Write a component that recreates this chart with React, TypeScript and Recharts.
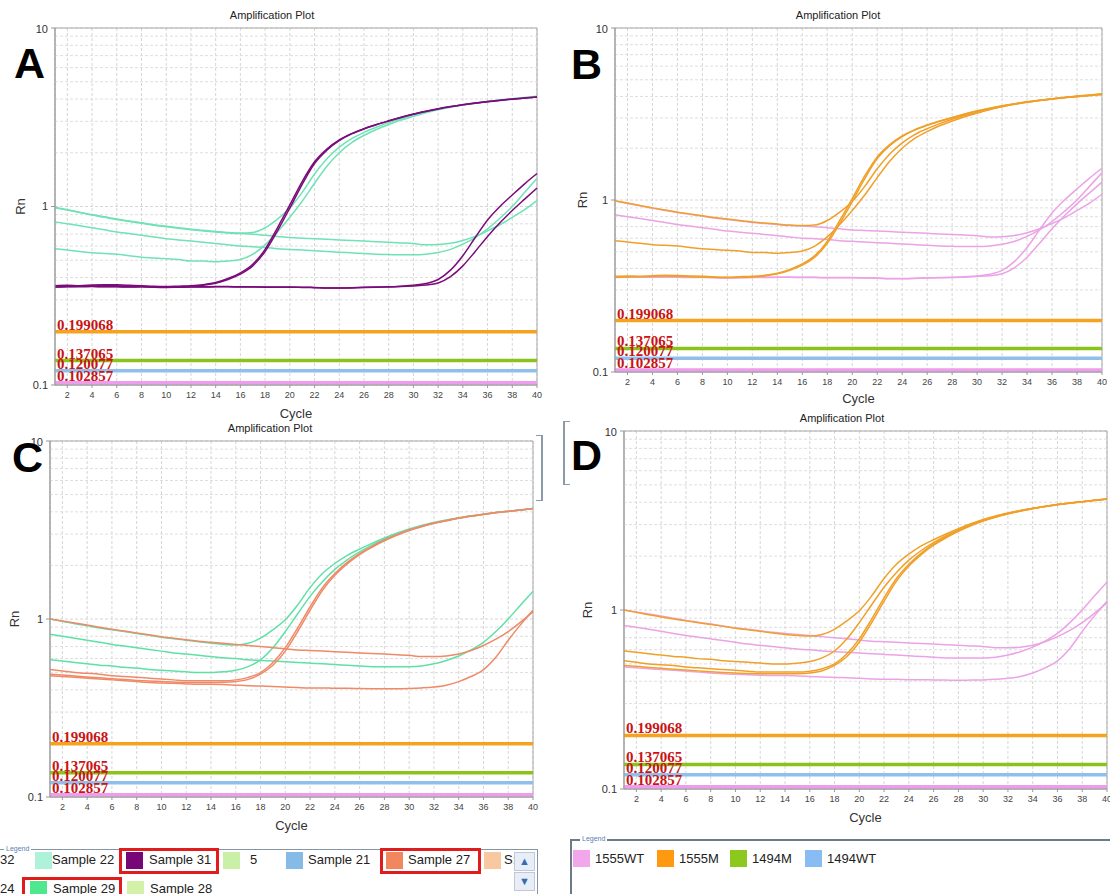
import React from 'react';
import { LineChart, Line, XAxis, YAxis, CartesianGrid, ReferenceLine, ReferenceArea } from 'recharts';

const cycles = [1, 2, 3, 4, 5, 6, 7, 8, 9, 10, 11, 12, 13, 14, 15, 16, 17, 18, 19, 20, 21, 22, 23, 24, 25, 26, 27, 28, 29, 30, 31, 32, 33, 34, 35, 36, 37, 38, 39, 40];
const xTicks = [2, 4, 6, 8, 10, 12, 14, 16, 18, 20, 22, 24, 26, 28, 30, 32, 34, 36, 38, 40];
const yTicks = [0.1, 1, 10];
const minorTicks = [0.2, 0.3, 0.4, 0.5, 0.6, 0.7, 0.8, 0.9, 2, 3, 4, 5, 6, 7, 8, 9];

const thresholds = [0.199068, 0.137065, 0.120077, 0.102857];
const thresholdLabels = ['0.199068', '0.137065', '0.120077', '0.102857'];

// run 1 (panels A and B show the same wells, coloured by sample / by target)
const ab1 = [0.99, 0.96, 0.93, 0.9, 0.875, 0.85, 0.83, 0.81, 0.79, 0.775, 0.76, 0.745, 0.735, 0.725, 0.715, 0.71, 0.715, 0.76, 0.85, 0.98, 1.2, 1.52, 1.85, 2.15, 2.4, 2.6, 2.78, 2.95, 3.1, 3.25, 3.38, 3.5, 3.61, 3.71, 3.8, 3.88, 3.95, 4.01, 4.07, 4.13];
const ab2 = [0.985, 0.955, 0.925, 0.895, 0.87, 0.845, 0.825, 0.805, 0.785, 0.77, 0.755, 0.74, 0.73, 0.72, 0.71, 0.705, 0.7, 0.69, 0.68, 0.67, 0.665, 0.66, 0.655, 0.65, 0.645, 0.64, 0.635, 0.63, 0.625, 0.62, 0.61, 0.612, 0.622, 0.645, 0.68, 0.73, 0.79, 0.87, 0.96, 1.08];
const ab3 = [0.82, 0.8, 0.78, 0.76, 0.74, 0.72, 0.705, 0.69, 0.675, 0.66, 0.65, 0.64, 0.63, 0.62, 0.61, 0.6, 0.595, 0.59, 0.58, 0.575, 0.57, 0.565, 0.56, 0.555, 0.55, 0.545, 0.54, 0.538, 0.536, 0.536, 0.54, 0.553, 0.575, 0.615, 0.67, 0.75, 0.86, 1.0, 1.2, 1.44];
const ab4 = [0.58, 0.57, 0.56, 0.55, 0.545, 0.54, 0.53, 0.52, 0.515, 0.51, 0.505, 0.495, 0.495, 0.49, 0.495, 0.505, 0.54, 0.61, 0.72, 0.87, 1.07, 1.35, 1.68, 2.0, 2.28, 2.5, 2.7, 2.88, 3.05, 3.2, 3.35, 3.48, 3.6, 3.7, 3.79, 3.87, 3.95, 4.02, 4.08, 4.15];
const ab5 = [0.36, 0.362, 0.36, 0.363, 0.365, 0.364, 0.362, 0.36, 0.357, 0.356, 0.358, 0.36, 0.365, 0.375, 0.395, 0.425, 0.475, 0.575, 0.76, 1.02, 1.38, 1.78, 2.1, 2.36, 2.56, 2.73, 2.88, 3.02, 3.16, 3.3, 3.42, 3.53, 3.63, 3.72, 3.8, 3.87, 3.94, 4.0, 4.05, 4.1];
const ab6 = [0.355, 0.357, 0.358, 0.36, 0.362, 0.36, 0.358, 0.356, 0.355, 0.354, 0.355, 0.357, 0.362, 0.372, 0.39, 0.418, 0.465, 0.56, 0.73, 0.98, 1.33, 1.74, 2.07, 2.34, 2.55, 2.72, 2.87, 3.01, 3.15, 3.29, 3.41, 3.52, 3.62, 3.71, 3.79, 3.86, 3.93, 3.99, 4.05, 4.1];
const ab7 = [0.355, 0.356, 0.357, 0.357, 0.356, 0.356, 0.355, 0.356, 0.354, 0.353, 0.354, 0.355, 0.355, 0.356, 0.356, 0.355, 0.355, 0.354, 0.354, 0.354, 0.353, 0.352, 0.35, 0.35, 0.351, 0.353, 0.354, 0.355, 0.358, 0.362, 0.37, 0.39, 0.44, 0.53, 0.67, 0.84, 1.0, 1.16, 1.34, 1.53];
const ab8 = [0.354, 0.355, 0.355, 0.356, 0.355, 0.355, 0.354, 0.355, 0.353, 0.352, 0.353, 0.354, 0.354, 0.355, 0.355, 0.354, 0.354, 0.353, 0.353, 0.353, 0.352, 0.351, 0.349, 0.349, 0.35, 0.352, 0.353, 0.354, 0.356, 0.359, 0.363, 0.373, 0.405, 0.465, 0.56, 0.68, 0.81, 0.95, 1.1, 1.27];

// run 2 (panels C and D)
const cd1 = [1.0, 0.97, 0.94, 0.915, 0.89, 0.87, 0.85, 0.83, 0.81, 0.79, 0.775, 0.76, 0.745, 0.73, 0.72, 0.715, 0.73, 0.78, 0.87, 0.99, 1.2, 1.5, 1.8, 2.05, 2.28, 2.47, 2.66, 2.85, 3.03, 3.2, 3.35, 3.48, 3.6, 3.7, 3.8, 3.88, 3.96, 4.03, 4.1, 4.17];
const cd2 = [0.59, 0.58, 0.57, 0.56, 0.55, 0.545, 0.535, 0.53, 0.52, 0.515, 0.51, 0.505, 0.5, 0.5, 0.505, 0.515, 0.54, 0.59, 0.69, 0.85, 1.07, 1.34, 1.62, 1.9, 2.15, 2.38, 2.6, 2.8, 3.0, 3.17, 3.32, 3.46, 3.58, 3.69, 3.79, 3.88, 3.96, 4.03, 4.1, 4.17];
const cd3 = [0.52, 0.51, 0.5, 0.495, 0.49, 0.48, 0.475, 0.47, 0.465, 0.46, 0.455, 0.45, 0.45, 0.45, 0.45, 0.455, 0.47, 0.5, 0.57, 0.69, 0.89, 1.17, 1.5, 1.8, 2.08, 2.33, 2.56, 2.78, 2.98, 3.16, 3.32, 3.46, 3.58, 3.69, 3.79, 3.88, 3.96, 4.03, 4.1, 4.17];
const cd4 = [0.49, 0.485, 0.478, 0.472, 0.467, 0.462, 0.457, 0.452, 0.448, 0.445, 0.442, 0.44, 0.44, 0.44, 0.441, 0.445, 0.458, 0.49, 0.55, 0.66, 0.85, 1.12, 1.45, 1.76, 2.04, 2.3, 2.53, 2.75, 2.95, 3.14, 3.3, 3.44, 3.56, 3.68, 3.78, 3.87, 3.95, 4.02, 4.09, 4.16];
const cd5 = [1.0, 0.975, 0.95, 0.925, 0.9, 0.875, 0.855, 0.835, 0.815, 0.795, 0.78, 0.765, 0.75, 0.74, 0.73, 0.72, 0.71, 0.7, 0.69, 0.68, 0.67, 0.665, 0.66, 0.655, 0.65, 0.645, 0.64, 0.635, 0.63, 0.625, 0.615, 0.615, 0.62, 0.635, 0.665, 0.71, 0.77, 0.85, 0.96, 1.1];
const cd6 = [0.82, 0.8, 0.78, 0.76, 0.74, 0.72, 0.705, 0.69, 0.675, 0.66, 0.645, 0.635, 0.625, 0.615, 0.605, 0.6, 0.59, 0.585, 0.58, 0.575, 0.57, 0.565, 0.56, 0.555, 0.55, 0.545, 0.54, 0.54, 0.54, 0.54, 0.545, 0.56, 0.585, 0.62, 0.67, 0.74, 0.85, 1.0, 1.2, 1.43];
const cd7 = [0.48, 0.475, 0.47, 0.465, 0.46, 0.455, 0.45, 0.445, 0.44, 0.437, 0.435, 0.432, 0.43, 0.43, 0.428, 0.425, 0.422, 0.42, 0.418, 0.415, 0.412, 0.41, 0.41, 0.408, 0.408, 0.407, 0.406, 0.405, 0.406, 0.407, 0.41, 0.415, 0.425, 0.445, 0.475, 0.52, 0.61, 0.76, 0.93, 1.12];

const legendC = ['Sample 22', 'Sample 31', '5', 'Sample 21', 'Sample 27', 'S:'];
const legendC2 = ['Sample 29', 'Sample 28'];
const legendD = ['1555WT', '1555M', '1494M', '1494WT'];

const run1 = cycles.map((c, i) => ({ cycle: c, ab1: ab1[i], ab2: ab2[i], ab3: ab3[i], ab4: ab4[i], ab5: ab5[i], ab6: ab6[i], ab7: ab7[i], ab8: ab8[i] }));
const run2 = cycles.map((c, i) => ({ cycle: c, cd1: cd1[i], cd2: cd2[i], cd3: cd3[i], cd4: cd4[i], cd5: cd5[i], cd6: cd6[i], cd7: cd7[i] }));

const MINT = '#6fe2b6';
const PURPLE = '#7a0c7a';
const ORANGE = '#f0a028';
const PINK = '#eba3e6';
const GREEN_C = '#5fe0a6';
const SALMON = '#ef8a68';
const thresholdColors = ['#f5a21e', '#8cc31b', '#90bfee', '#ee9ced'];

const panels = [
  {
    id: 'A', data: run1, plot: { l: 55, r: 537, t: 28, b: 385 }, titleX: 272, titleY: 15, rnOffset: 15, cycleOffset: 7,
    letter: { left: 14, top: 42 },
    series: [['ab1', MINT], ['ab2', MINT], ['ab3', MINT], ['ab4', MINT], ['ab7', PURPLE], ['ab8', PURPLE], ['ab5', PURPLE], ['ab6', PURPLE]],
  },
  {
    id: 'B', data: run1, plot: { l: 615, r: 1102, t: 28, b: 372 }, titleX: 838, titleY: 15, rnOffset: 17, cycleOffset: 9,
    letter: { left: 571, top: 43 },
    series: [['ab2', PINK], ['ab3', PINK], ['ab7', PINK], ['ab8', PINK], ['ab1', ORANGE], ['ab4', ORANGE], ['ab5', ORANGE], ['ab6', ORANGE]],
  },
  {
    id: 'C', data: run2, plot: { l: 50, r: 533, t: 441, b: 797 }, titleX: 270, titleY: 428, rnOffset: 14, cycleOffset: 7,
    letter: { left: 12, top: 436 },
    series: [['cd1', GREEN_C], ['cd2', GREEN_C], ['cd6', GREEN_C], ['cd7', SALMON], ['cd5', SALMON], ['cd3', SALMON], ['cd4', SALMON]],
  },
  {
    id: 'D', data: run2, plot: { l: 624, r: 1107, t: 431, b: 789 }, titleX: 842, titleY: 418, rnOffset: 13, cycleOffset: 7,
    letter: { left: 571, top: 434 },
    series: [['cd5', PINK], ['cd6', PINK], ['cd7', PINK], ['cd1', ORANGE], ['cd2', ORANGE], ['cd3', ORANGE], ['cd4', ORANGE]],
  },
];

function Panel({ p }: { p: any }) {
  const { l, r, t, b } = p.plot;
  return (
    <>
      <div style={{ position: 'absolute', left: l - 55, top: t - 5 }}>
        <LineChart width={r - l + 65} height={b - t + 45} data={p.data} margin={{ top: 5, right: 10, left: 5, bottom: 0 }}>
          <CartesianGrid stroke="#d6d6d6" strokeDasharray="3 2" />
          {minorTicks.map(v => (
            <ReferenceLine key={v} y={v} stroke="#dedede" strokeDasharray="3 2" />
          ))}
          <ReferenceArea x1={1} x2={40} y1={0.1} y2={10} fill="none" stroke="#a9a9a9" />
          <XAxis
            type="number" dataKey="cycle" domain={[1, 40]} ticks={xTicks} interval={0} height={40}
            tick={{ fontSize: 9, fill: '#444' }} tickSize={3} tickMargin={4}
            axisLine={{ stroke: '#999' }} tickLine={{ stroke: '#999' }}
            label={{ value: 'Cycle', position: 'insideBottom', offset: p.cycleOffset, fontSize: 13, fill: '#333' }}
          />
          <YAxis
            type="number" scale="log" domain={[0.1, 10]} ticks={yTicks} allowDataOverflow width={50}
            tick={{ fontSize: 11, fill: '#333' }} tickSize={4} tickMargin={3}
            axisLine={{ stroke: '#999' }} tickLine={{ stroke: '#999' }}
            label={{ value: 'Rn', angle: -90, position: 'insideLeft', offset: p.rnOffset, fontSize: 13, fill: '#333', style: { textAnchor: 'middle' } }}
          />
          {thresholds.map((v, i) => (
            <ReferenceLine
              key={'th' + i} y={v} stroke={thresholdColors[i]} strokeWidth={3.5}
              label={{ value: thresholdLabels[i], position: 'insideBottomLeft', offset: 2, fill: '#c81414', fontSize: 15, fontWeight: 'bold', fontFamily: '"Liberation Serif", serif' }}
            />
          ))}
          {p.series.map(([key, color]: [string, string]) => (
            <Line key={key} type="monotone" dataKey={key} stroke={color} strokeWidth={1.5} dot={false} isAnimationActive={false} />
          ))}
        </LineChart>
      </div>
      <div style={{ position: 'absolute', left: p.titleX - 100, top: p.titleY - 7, width: 200, textAlign: 'center', fontSize: 11, lineHeight: '14px', color: '#222' }}>
        Amplification Plot
      </div>
      <div style={{ position: 'absolute', left: p.letter.left, top: p.letter.top, fontSize: 43, lineHeight: 1, fontWeight: 'bold', color: '#000' }}>
        {p.id}
      </div>
    </>
  );
}

const swatch = (color: string, left: number, top: number) => (
  <div style={{ position: 'absolute', left, top, width: 17, height: 17, background: color }} />
);
const label = (text: string, left: number, top: number) => (
  <div style={{ position: 'absolute', left, top, fontSize: 13, lineHeight: '16px', color: '#222', whiteSpace: 'nowrap' }}>{text}</div>
);
const redBox = (left: number, top: number, width: number, height: number) => (
  <div style={{ position: 'absolute', left, top, width, height, border: '3px solid #e01c1c', boxSizing: 'border-box' }} />
);

export default function App() {
  const rowC = 852;
  const rowC2 = 881;
  return (
    <div style={{ position: 'absolute', left: 0, top: 0, width: 1110, height: 894, overflow: 'hidden', background: '#fff', fontFamily: '"Liberation Sans", Arial, sans-serif' }}>
      {panels.map(p => <Panel key={p.id} p={p} />)}

      {/* brackets between the lower panels */}
      <div style={{ position: 'absolute', left: 536, top: 435, width: 5, height: 64, borderRight: '2px solid #8a9aa8', borderTop: '1px solid #8a9aa8', borderBottom: '1px solid #8a9aa8' }} />
      <div style={{ position: 'absolute', left: 563, top: 421, width: 5, height: 62, borderLeft: '2px solid #8a9aa8', borderTop: '1px solid #8a9aa8', borderBottom: '1px solid #8a9aa8' }} />

      {/* legend under C */}
      <div style={{ position: 'absolute', left: -2, top: 849, width: 538, height: 60, border: '1px solid #8595a3' }} />
      <div style={{ position: 'absolute', left: 4, top: 844, fontSize: 7, lineHeight: '9px', color: '#5a80b0', background: '#fff', padding: '0 2px' }}>Legend</div>
      {label('32', 0, rowC)}
      {swatch('#aef2da', 35, rowC)}
      {label(legendC[0], 52, rowC)}
      {redBox(119, 848, 100, 26)}
      {swatch('#770777', 126, rowC)}
      {label(legendC[1], 149, rowC)}
      {swatch('#c9f0a6', 223, rowC)}
      {label(legendC[2], 250, rowC)}
      {swatch('#86bbe8', 286, rowC)}
      {label(legendC[3], 308, rowC)}
      {redBox(380, 848, 101, 26)}
      {swatch('#f0875e', 386, rowC)}
      {label(legendC[4], 408, rowC)}
      {swatch('#f8c9a0', 484, rowC)}
      {label(legendC[5], 504, rowC)}
      <div style={{ position: 'absolute', left: 514, top: 852, width: 19, height: 17, background: '#e8eef8', border: '1px solid #c0c8d8', color: '#3a6ab0', fontSize: 11, lineHeight: '17px', textAlign: 'center' }}>▲</div>
      <div style={{ position: 'absolute', left: 514, top: 872, width: 19, height: 17, background: '#e8eef8', border: '1px solid #c0c8d8', color: '#3a6ab0', fontSize: 11, lineHeight: '17px', textAlign: 'center' }}>▼</div>
      {label('24', 0, rowC2)}
      {redBox(22, 877, 100, 26)}
      {swatch('#4fe88f', 30, rowC2)}
      {label(legendC2[0], 53, rowC2)}
      {swatch('#d4f1aa', 127, rowC2)}
      {label(legendC2[1], 150, rowC2)}

      {/* legend under D */}
      <div style={{ position: 'absolute', left: 570, top: 839, width: 560, height: 80, borderTop: '2px solid #6b7b88', borderLeft: '2px solid #6b7b88' }} />
      <div style={{ position: 'absolute', left: 580, top: 834, fontSize: 7, lineHeight: '9px', color: '#5a80b0', background: '#fff', padding: '0 2px' }}>Legend</div>
      {swatch('#f2a6ec', 573, 850)}
      {label(legendD[0], 595, 851)}
      {swatch('#ff9a10', 657, 850)}
      {label(legendD[1], 679, 851)}
      {swatch('#8cc81e', 730, 850)}
      {label(legendD[2], 752, 851)}
      {swatch('#88bcf2', 805, 850)}
      {label(legendD[3], 827, 851)}
    </div>
  );
}
